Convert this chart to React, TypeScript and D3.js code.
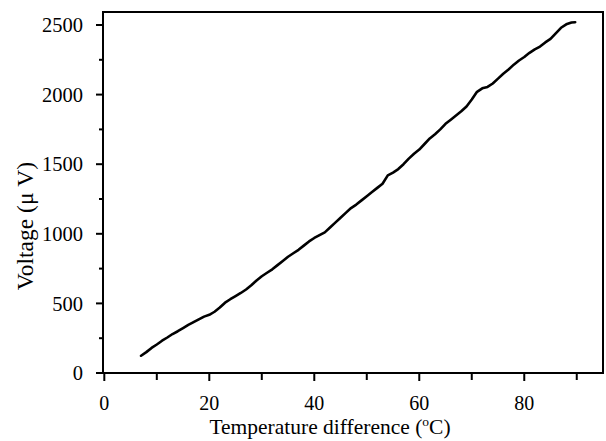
import React from "react";
import * as d3 from "d3";

const tempDiff = [7, 8, 9, 10, 11, 12, 13, 14, 15, 16, 17, 18, 19, 20, 21, 22, 23, 24, 25, 26, 27, 28, 29, 30, 31, 32, 33, 34, 35, 36, 37, 38, 39, 40, 41, 42, 43, 44, 45, 46, 47, 48, 49, 50, 51, 52, 53, 54, 55, 56, 57, 58, 59, 60, 61, 62, 63, 64, 65, 66, 67, 68, 69, 70, 71, 72, 73, 74, 75, 76, 77, 78, 79, 80, 81, 82, 83, 84, 85, 86, 87, 88, 89, 89.7];
const voltage = [124, 150, 180, 205, 232, 255, 280, 300, 322, 345, 365, 385, 405, 418, 440, 470, 505, 530, 552, 575, 600, 630, 665, 695, 720, 745, 775, 805, 835, 860, 885, 915, 945, 970, 990, 1010, 1045, 1080, 1115, 1150, 1185, 1210, 1240, 1270, 1300, 1330, 1360, 1420, 1440, 1465, 1500, 1540, 1575, 1605, 1645, 1685, 1715, 1750, 1790, 1820, 1850, 1880, 1915, 1965, 2020, 2045, 2055, 2080, 2115, 2150, 2180, 2215, 2245, 2270, 2300, 2325, 2345, 2375, 2400, 2440, 2480, 2505, 2518, 2520];

const xMajorTicks = [0, 20, 40, 60, 80];
const xMinorTicks = [10, 30, 50, 70, 90];
const yMajorTicks = [0, 500, 1000, 1500, 2000, 2500];
const yMinorTicks = [250, 750, 1250, 1750, 2250];

const W = 606, H = 441;
const left = 103, right = 603, top = 12, bottom = 373;
const FONT = "'Liberation Serif', 'Times New Roman', serif";

export default function App() {
  const x = d3.scaleLinear().domain([-0.25, 95]).range([left, right]);
  const y = d3.scaleLinear().domain([0, 2500]).range([bottom, 25]);
  const pts: [number, number][] = tempDiff.map((t, i) => [t, voltage[i]]);
  const line = d3.line<[number, number]>().x(d => x(d[0])).y(d => y(d[1]));
  return (
    <svg width={W} height={H} style={{ position: "absolute", left: 0, top: 0, background: "#fff" }} fontFamily={FONT}>
      <rect x={left} y={top} width={right - left} height={bottom - top} fill="none" stroke="#000" strokeWidth={2} />
      {yMajorTicks.map(v => (
        <g key={"ym" + v}>
          <line x1={left - 7} x2={left} y1={y(v)} y2={y(v)} stroke="#000" strokeWidth={2} />
          <text x={83} y={y(v)} dy="0.35em" textAnchor="end" fontSize={20.5}>{v}</text>
        </g>
      ))}
      {yMinorTicks.map(v => (
        <line key={"yn" + v} x1={left - 4} x2={left} y1={y(v)} y2={y(v)} stroke="#000" strokeWidth={2} />
      ))}
      {xMajorTicks.map(v => (
        <g key={"xm" + v}>
          <line x1={x(v)} x2={x(v)} y1={bottom} y2={bottom + 8} stroke="#000" strokeWidth={2} />
          <text x={x(v)} y={410} textAnchor="middle" fontSize={20}>{v}</text>
        </g>
      ))}
      {xMinorTicks.map(v => (
        <line key={"xn" + v} x1={x(v)} x2={x(v)} y1={bottom} y2={bottom + 7} stroke="#000" strokeWidth={2} />
      ))}
      <path d={line(pts) || ""} fill="none" stroke="#000" strokeWidth={2.6} strokeLinejoin="round" strokeLinecap="round" />
      <text x={330} y={434} textAnchor="middle" fontSize={21.5}>
        Temperature difference (<tspan fontSize={13.5} dy={-8.5}>o</tspan><tspan dy={8.5}>C)</tspan>
      </text>
      <text transform="translate(33,226) rotate(-90)" textAnchor="middle" fontSize={23.5}>Voltage (μ V)</text>
    </svg>
  );
}
